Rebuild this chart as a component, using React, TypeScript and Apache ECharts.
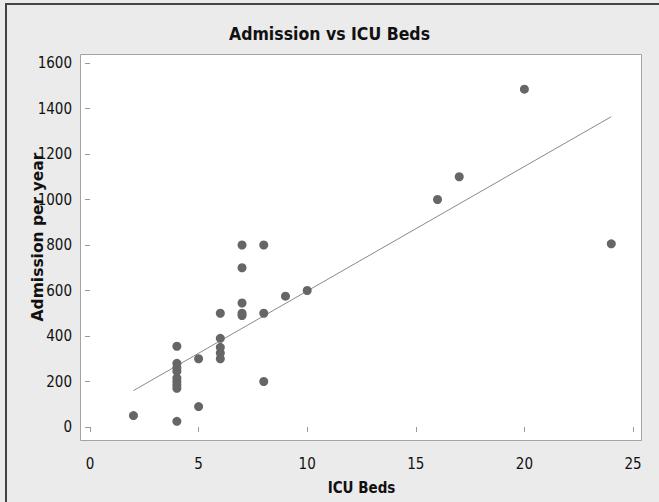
import React, { useEffect, useRef } from "react";
import * as echarts from "echarts";

const titleText = "Admission vs ICU Beds";
const xName = "ICU Beds";
const yName = "Admission per year";

const icuBeds = [2, 4, 4, 4, 4, 4, 4, 4, 4, 4, 5, 5, 6, 6, 6, 6, 6, 7, 7, 7, 7, 7, 8, 8, 8, 9, 10, 16, 17, 20, 24];
const admissions = [50, 25, 170, 185, 200, 215, 245, 260, 280, 355, 90, 300, 300, 325, 350, 390, 500, 490, 500, 545, 700, 800, 200, 500, 800, 575, 600, 1000, 1100, 1485, 805];

// fitted line endpoints
const fitX = [2, 24];
const fitY = [160, 1364];

const xTicks = { min: 0, max: 25, interval: 5 };
const yTicks = { min: 0, max: 1600, interval: 200 };

const FONT = "'DejaVu Sans Condensed', 'DejaVu Sans', sans-serif";

export default function App() {
  const ref = useRef<HTMLDivElement>(null);
  useEffect(() => {
    if (!ref.current) return;
    const chart = echarts.init(ref.current, null, { renderer: "svg" });
    const points = icuBeds.map((x, i) => [x, admissions[i]]);
    const line = fitX.map((x, i) => [x, fitY[i]]);
    chart.setOption({
      animation: false,
      backgroundColor: "#ebebeb",
      title: {
        text: titleText,
        left: "center",
        top: 20,
        textStyle: { fontFamily: FONT, fontSize: 17.5, fontWeight: "bold", color: "#111" },
      },
      graphic: [
        {
          type: "rect",
          z: -1,
          shape: { x: 80.5, y: 54.5, width: 561, height: 386 },
          style: { fill: "#ffffff", stroke: "#a4a4a4", lineWidth: 1 },
        },
        {
          type: "line",
          shape: { x1: 6, y1: 4, x2: 6, y2: 502 },
          style: { stroke: "#444", lineWidth: 2 },
        },
        {
          type: "line",
          shape: { x1: 5, y1: 4, x2: 659, y2: 4 },
          style: { stroke: "#444", lineWidth: 2 },
        },
      ],
      grid: { left: 90, top: 63, width: 543, height: 364 },
      xAxis: {
        type: "value",
        ...xTicks,
        offset: 13,
        name: xName,
        nameLocation: "middle",
        nameGap: 40,
        nameMoveOverlap: false,
        nameTextStyle: { fontFamily: FONT, fontSize: 15, fontWeight: "bold", color: "#111" },
        axisLine: { show: false },
        axisTick: { show: true, length: 5, lineStyle: { color: "#999" } },
        axisLabel: { margin: 16, fontFamily: FONT, fontSize: 15, color: "#111" },
        splitLine: { show: false },
      },
      yAxis: {
        type: "value",
        ...yTicks,
        offset: 10,
        name: yName,
        nameLocation: "middle",
        nameGap: 34,
        nameMoveOverlap: false,
        nameTextStyle: {
          fontFamily: "'DejaVu Sans', sans-serif",
          fontSize: 15.5,
          fontWeight: "bold",
          color: "#111",
          padding: [0, 0, 0, 16],
        },
        axisLine: { show: false },
        axisTick: { show: true, length: 5, lineStyle: { color: "#999" } },
        axisLabel: {
          margin: 8,
          fontFamily: FONT,
          fontSize: 15,
          color: "#111",
          formatter: (v: number) => String(v),
        },
        splitLine: { show: false },
      },
      series: [
        {
          type: "line",
          data: line,
          symbol: "none",
          lineStyle: { color: "#8a8a8a", width: 1 },
          z: 1,
        },
        {
          type: "scatter",
          data: points,
          symbolSize: 9,
          itemStyle: { color: "#666666", opacity: 1 },
          z: 2,
        },
      ],
    });
    return () => chart.dispose();
  }, []);
  return (
    <div
      ref={ref}
      style={{ position: "fixed", left: 0, top: 0, width: 659, height: 502 }}
    />
  );
}
